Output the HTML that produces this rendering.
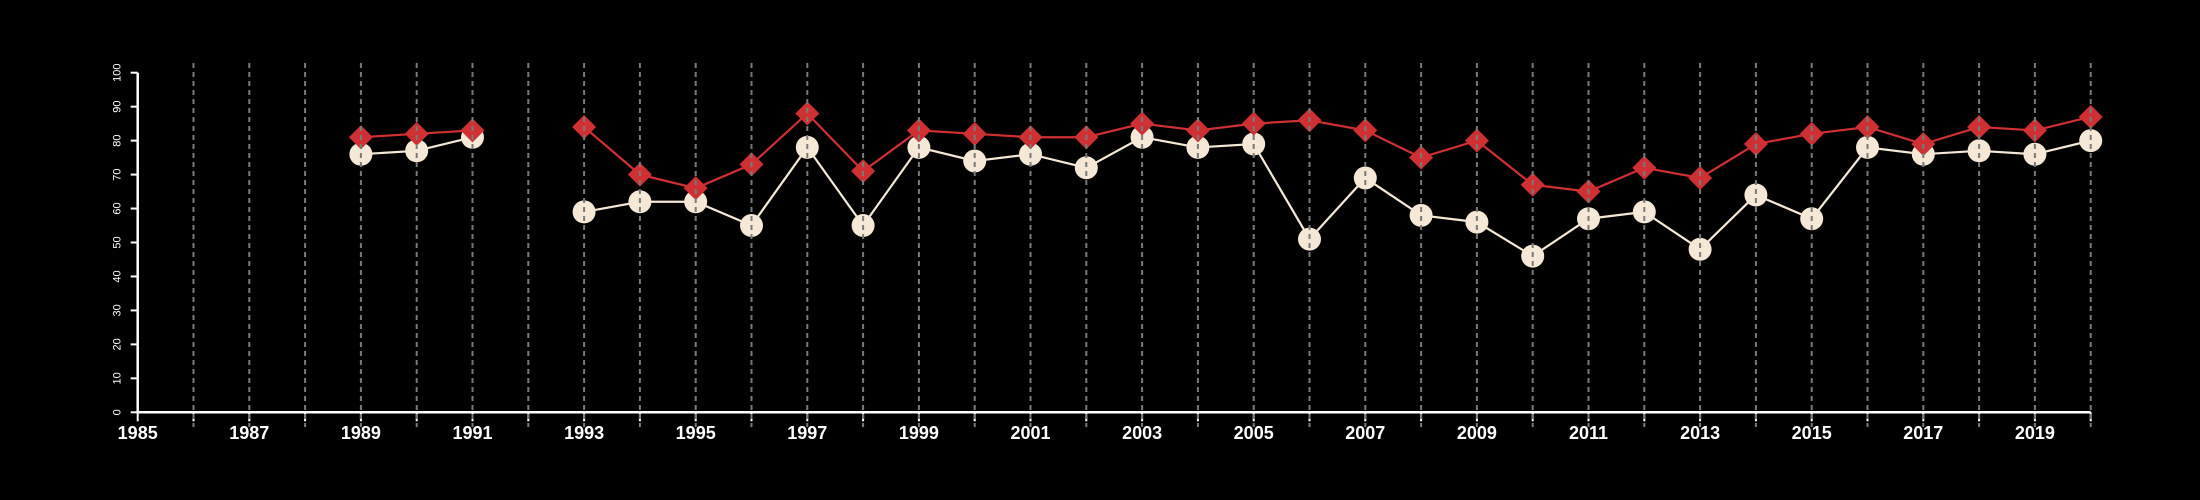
<!DOCTYPE html>
<html><head><meta charset="utf-8"><style>
html,body{margin:0;padding:0;background:#000;}
svg{display:block;font-family:"Liberation Sans",sans-serif;}
</style></head><body>
<svg id="chart" width="2200" height="500"></svg>
<script>
const years = [1989,1990,1991,1992,1993,1994,1995,1996,1997,1998,1999,2000,2001,2002,2003,2004,2005,2006,2007,2008,2009,2010,2011,2012,2013,2014,2015,2016,2017,2018,2019,2020];
const redSeries = [81,82,83,null,84,70,66,73,88,71,83,82,81,81,85,83,85,86,83,75,80,67,65,72,69,79,82,84,79,84,83,87];
const creamSeries = [76,77,81,null,59,62,62,55,78,55,78,74,76,72,81,78,79,51,69,58,56,46,57,59,48,64,57,78,76,77,76,80];
const yTicks = [0,10,20,30,40,50,60,70,80,90,100];
const xLabels = [1985,1987,1989,1991,1993,1995,1997,1999,2001,2003,2005,2007,2009,2011,2013,2015,2017,2019];

const NS="http://www.w3.org/2000/svg";
const svg=document.getElementById('chart');
const x0=137.7, pxYear=55.8, y0=412.3, pxUnit=3.396;
const X=yr=>x0+(yr-1985)*pxYear;
const Y=v=>y0-v*pxUnit;
function mk(tag,attrs,parent){const e=document.createElementNS(NS,tag);for(const k in attrs)e.setAttribute(k,attrs[k]);(parent||svg).appendChild(e);return e;}

const axes=mk('g',{});


mk('line',{x1:X(1985),x2:X(2020),y1:y0,y2:y0,stroke:'#fff','stroke-width':2.5},axes);
mk('line',{x1:X(1985),x2:X(1985),y1:y0,y2:Y(100),stroke:'#fff','stroke-width':2.5},axes);
for(const t of yTicks){
  mk('line',{x1:X(1985)-7,x2:X(1985),y1:Y(t),y2:Y(t),stroke:'#fff','stroke-width':2},axes);
  const tx=mk('text',{x:0,y:0,fill:'#fff','font-size':11,'text-anchor':'middle',transform:`translate(${X(1985)-20},${Y(t)}) rotate(-90)`,'dominant-baseline':'central'},axes);
  
  
  tx.textContent=t;
}
for(let yr=1985;yr<=2020;yr++){
  mk('line',{x1:X(yr),x2:X(yr),y1:y0,y2:y0+9,stroke:'#fff','stroke-width':2},axes);
}
for(const l of xLabels){
  const tx=mk('text',{x:X(l),y:439,fill:'#fff','font-size':18,'font-weight':'bold','text-anchor':'middle'},axes);
  
  
  tx.textContent=l;
}
function series(vals,color,name){
  const g=mk('g',{});
  
  
  let d='',pen=false;
  vals.forEach((v,i)=>{ if(v==null){pen=false;return;} d+=(pen?'L':'M')+X(years[i])+' '+Y(v)+' '; pen=true;});
  mk('path',{d:d,fill:'none',stroke:color,'stroke-width':2.2},g);
  return g;
}
const gc=series(creamSeries,'#f5e8d6','cream-series');
const gr=series(redSeries,'#cf3034','red-series');
creamSeries.forEach((v,i)=>{ if(v==null)return;
  const c=mk('circle',{cx:X(years[i]),cy:Y(v),r:11.5,fill:'#f5e8d6'},gc);
  
  
});
redSeries.forEach((v,i)=>{ if(v==null)return;
  const cx=X(years[i]),cy=Y(v),s=12;
  const p=mk('polygon',{points:`${cx},${cy-s} ${cx+s},${cy} ${cx},${cy+s} ${cx-s},${cy}`,fill:'#cf3034'},gr);
  
  
});
const grid=mk('g',{});


for(let yr=1986;yr<=2020;yr++){
  mk('line',{x1:X(yr),x2:X(yr),y1:63,y2:427,stroke:'#7a7a7a','stroke-width':2,'stroke-dasharray':'5,4'},grid);
}
</script>
</body></html>
